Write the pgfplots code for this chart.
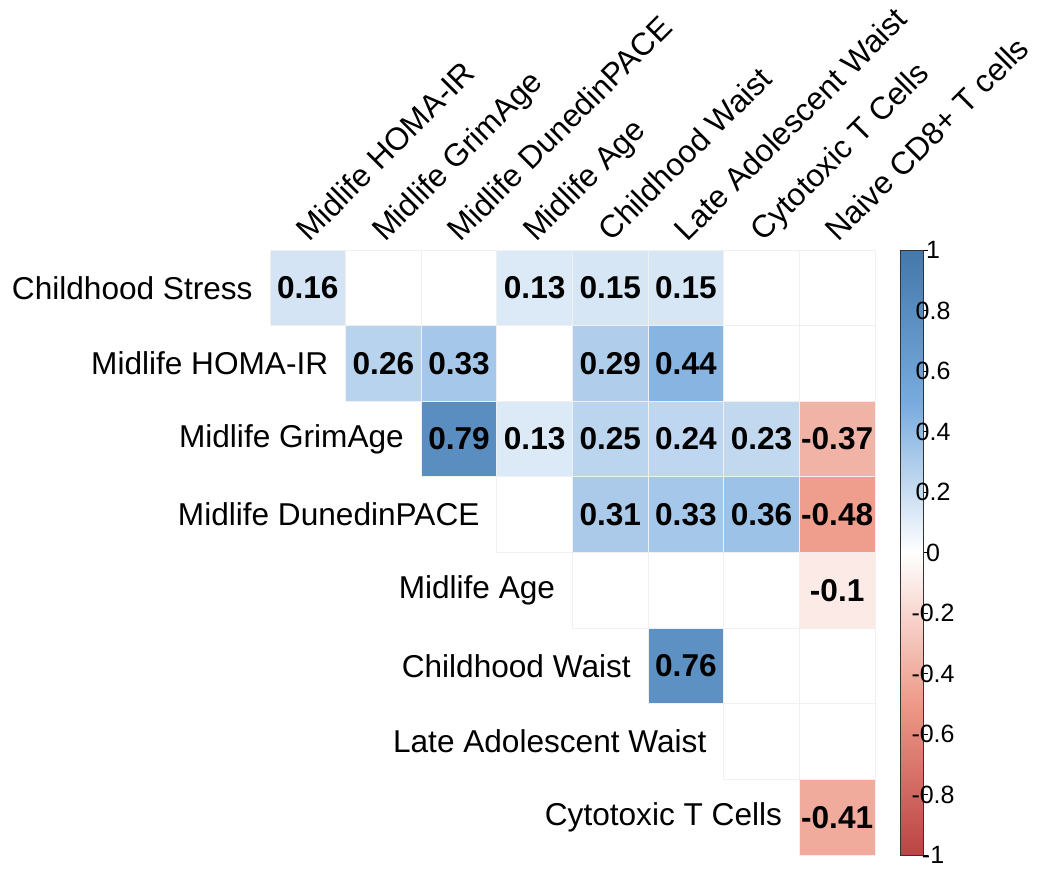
\documentclass[border=0pt]{standalone}
\usepackage{pgfplots}
\pgfplotsset{compat=1.18}
\usepackage{fontspec}
\setmainfont{Liberation Sans}
\newcommand{\lab}{\fontsize{15.8}{18}\selectfont}
\begin{document}
\begin{tikzpicture}
\begin{axis}[
  at={(0,0)}, anchor=south west,
  scale only axis, width=302.5pt, height=302.5pt,
  xmin=-0.5, xmax=7.5, ymin=-0.5, ymax=7.5, y dir=reverse,
  xtick=\empty, ytick=\empty, axis line style={draw=none},
  clip=false,
  colormap={corr}{rgb255=(187,68,68) rgb255=(238,153,136) rgb255=(255,255,255) rgb255=(119,170,221) rgb255=(68,119,170)},
  point meta min=-1, point meta max=1,
  colorbar,
  colorbar style={
    at={(parent axis.north east)}, anchor=north west, xshift=4pt,
    scale only axis, width=11.5pt, height=302.5pt,
    axis line style={draw=black!80, line width=0.5pt},
    ytick={-1,-0.8,-0.6,-0.4,-0.2,0,0.2,0.4,0.6,0.8,1},
    yticklabels={-1,-0.8,-0.6,-0.4,-0.2,0,0.2,0.4,0.6,0.8,1},
    ytick pos=right, tick align=outside, major tick length=2.5pt,
    ytick style={draw=black, line width=0.5pt},
    yticklabel style={anchor=center, xshift=2.5pt, font=\fontsize{12.5}{14}\selectfont},
  },
]
\addplot[scatter, only marks, mark=square*, mark size=18.906pt, point meta=explicit,
  scatter/use mapped color={draw=black!6, fill=mapped color}, line width=0.4pt]
  table[meta=v]{
x y v
0 0 0.16
1 0 0
2 0 0
3 0 0.13
4 0 0.15
5 0 0.15
6 0 0
7 0 0
1 1 0.26
2 1 0.33
3 1 0
4 1 0.29
5 1 0.44
6 1 0
7 1 0
2 2 0.79
3 2 0.13
4 2 0.25
5 2 0.24
6 2 0.23
7 2 -0.37
3 3 0
4 3 0.31
5 3 0.33
6 3 0.36
7 3 -0.48
4 4 0
5 4 0
6 4 0
7 4 -0.1
5 5 0.76
6 5 0
7 5 0
6 6 0
7 6 0
7 7 -0.41
};
\addplot[draw=none, mark=none, nodes near coords, point meta=explicit symbolic,
  nodes near coords style={anchor=center, text=black, font=\bfseries\lab, inner sep=0pt}]
  table[meta=lab]{
x y lab
0 0 0.16
3 0 0.13
4 0 0.15
5 0 0.15
1 1 0.26
2 1 0.33
4 1 0.29
5 1 0.44
2 2 0.79
3 2 0.13
4 2 0.25
5 2 0.24
6 2 0.23
7 2 -0.37
4 3 0.31
5 3 0.33
6 3 0.36
7 3 -0.48
7 4 -0.1
5 5 0.76
7 7 -0.41
};
% row labels
\foreach \i/\t in {0/Childhood Stress,1/Midlife HOMA-IR,2/Midlife GrimAge,3/Midlife DunedinPACE,4/Midlife Age,5/Childhood Waist,6/Late Adolescent Waist,7/Cytotoxic T Cells}{
  \edef\tmp{\noexpand\node[anchor=east, inner sep=0pt, font=\noexpand\lab, xshift=-8.5pt] at (axis cs:\i-0.5,\i) {\t};}
  \tmp
}
% column labels
\foreach \j/\t in {0/Midlife HOMA-IR,1/Midlife GrimAge,2/Midlife DunedinPACE,3/Midlife Age,4/Childhood Waist,5/Late Adolescent Waist,6/Cytotoxic T Cells,7/Naive CD8+ T cells}{
  \edef\tmp{\noexpand\node[anchor=base west, rotate=45, inner sep=0pt, font=\noexpand\lab, xshift=3pt, yshift=2pt] at (axis cs:\j,-0.5) {\t};}
  \tmp
}
\end{axis}
\pgfresetboundingbox
\path (-135pt,-7pt) rectangle (385.5pt,427.5pt);
\end{tikzpicture}
\end{document}
